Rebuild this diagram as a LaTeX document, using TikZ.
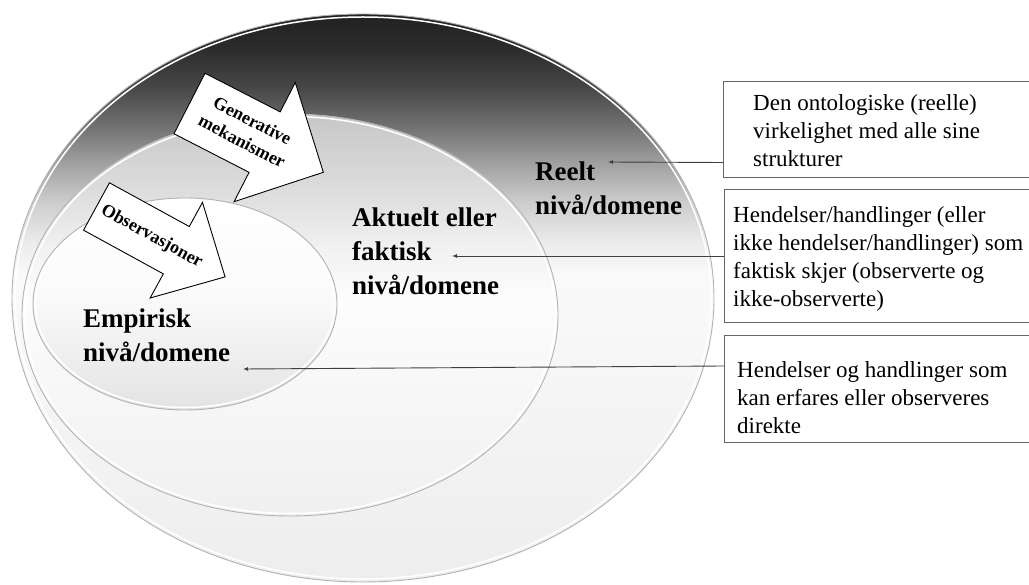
\documentclass[tikz,border=0pt]{standalone}
\usepackage{fontspec}
\setmainfont{Liberation Serif}
\usetikzlibrary{arrows.meta}

% shadings for the three levels
\pgfdeclareverticalshading{realshade}{100bp}{color(0bp)=(black!7); color(25bp)=(black!7); color(52bp)=(black!2); color(55bp)=(black!8); color(58.5bp)=(black!20); color(62bp)=(black!38); color(65bp)=(black!55); color(68.5bp)=(black!72); color(72bp)=(black!83); color(75bp)=(black!87); color(100bp)=(black!87)}
\pgfdeclareverticalshading{actualshade}{100bp}{color(0bp)=(black!6); color(25bp)=(black!6); color(52bp)=(black!1); color(58bp)=(black!5); color(65bp)=(black!13); color(75bp)=(black!22); color(100bp)=(black!22)}
\pgfdeclareverticalshading{empshade}{100bp}{color(0bp)=(black!11); color(25bp)=(black!11); color(51bp)=(black!2); color(75bp)=(white); color(100bp)=(white)}

\begin{document}
\begin{tikzpicture}[x=1pt,y=-1pt,
    levelrim/.style={draw=black!30, line width=0.9pt},
    levellabel/.style={font=\bfseries\fontsize{27}{34}\selectfont, align=left, inner sep=0pt},
    boxtext/.style={font=\fontsize{23}{28}\selectfont, align=left, inner sep=0pt},
    infobox/.style={draw=black!60, line width=1pt, minimum width=330pt, inner sep=0pt},
    pointer/.style={draw=black!75, line width=0.9pt, -{Latex[length=5pt,width=4pt]}},
    blockarrow/.style={fill=white, draw=black, line width=0.9pt, line join=miter},
    arrowtext/.style={font=\bfseries\fontsize{18}{23}\selectfont, align=center, inner sep=0pt}]

    \useasboundingbox (0,0) rectangle (1029,585);

    % reelt nivå
    \shade[shading=realshade, levelrim] (363,298) ellipse [x radius=351, y radius=284];
    \draw[white, line width=1.5pt] (363,298) ellipse [x radius=348, y radius=281];

    % aktuelt nivå
    \shade[shading=actualshade, levelrim] (290,315) ellipse [x radius=268, y radius=201];
    \draw[white, line width=1.5pt] (290,315) ellipse [x radius=265.5, y radius=198.5];

    % empirisk nivå
    \shade[shading=empshade, levelrim] (185,304) ellipse [x radius=152, y radius=106];
    \draw[white, line width=1.5pt] (185,304) ellipse [x radius=149.5, y radius=103.5];

    % generative mekanismer
    \begin{scope}[shift={(189.5,103.5)}, rotate=-27.2]
        \draw[blockarrow] (0,-34) -- (84.5,-34) -- (84.5,-67) -- (150.5,0) -- (84.5,67) -- (84.5,34) -- (0,34) -- cycle;
        \node[arrowtext, rotate=-27.2] (gentext) at (64,-2) {Generative\\mekanismer};
    \end{scope}

    % observasjoner
    \begin{scope}[shift={(96.5,206.5)}, rotate=-28.7]
        \draw[blockarrow] (0,-27) -- (91,-27) -- (91,-54.5) -- (146.6,0) -- (91,54.5) -- (91,27) -- (0,27) -- cycle;
        \node[arrowtext, rotate=-28.7] (obstext) at (63,0) {Observasjoner};
    \end{scope}

    % nivåene
    \node[levellabel, anchor=north west] (reelt) at (535,162) {Reelt\\nivå/domene};
    \node[levellabel, anchor=north west] (aktuelt) at (352,208) {Aktuelt eller\\faktisk\\nivå/domene};
    \node[levellabel, anchor=north west] (empirisk) at (83,309) {Empirisk\\nivå/domene};

    % forklaringsbokser
    \node[infobox, minimum height=96pt, anchor=north west] (realbox) at (723,81) {};
    \node[infobox, minimum height=133pt, anchor=north west] (actualbox) at (724,189) {};
    \node[infobox, minimum height=107pt, anchor=north west] (empbox) at (724,335) {};
    \node[boxtext, anchor=north west] (realtext) at (753,94) {Den ontologiske (reelle)\\virkelighet med alle sine\\strukturer};
    \node[boxtext, anchor=north west] (actualtext) at (733,206) {Hendelser/handlinger (eller\\ikke hendelser/handlinger) som\\faktisk skjer (observerte og\\ikke-observerte)};
    \node[boxtext, anchor=north west] (emptext) at (737,361) {Hendelser og handlinger som\\kan erfares eller observeres\\direkte};

    % piler til nivåene
    \coordinate (reeltpt) at (608,162);
    \coordinate (aktueltpt) at (452,256);
    \coordinate (empirpt) at (243,369);
    \draw[pointer] ([yshift=-33pt]realbox.west) -- (reeltpt);
    \draw[pointer] (actualbox.west) -- (aktueltpt);
    \draw[pointer] ([yshift=23pt]empbox.west) -- (empirpt);
\end{tikzpicture}
\end{document}
